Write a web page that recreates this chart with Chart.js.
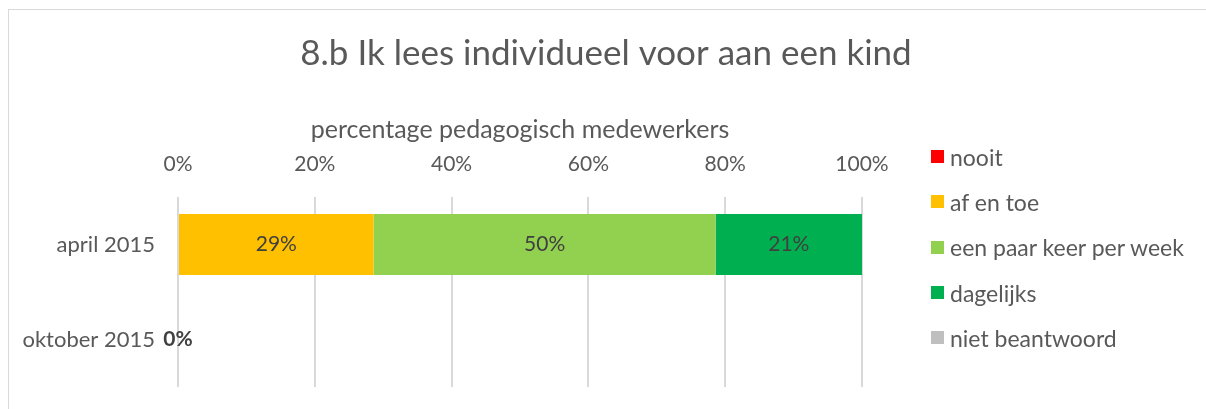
<!DOCTYPE html>
<html>
<head>
<meta charset="utf-8">
<script src="https://cdn.jsdelivr.net/npm/chart.js@4.4.1/dist/chart.umd.min.js"></script>
<style>
  body { margin: 0; background: #fff; overflow: hidden; font-family: Lato, "Open Sans", sans-serif; }
  .frame { position: absolute; left: 8px; top: 9px; width: 1230px; height: 430px; border: 1px solid #d9d9d9; }
  .box { position: relative; width: 1194px; height: 400px; }
  #legend { position: absolute; left: 922px; top: 124px; margin: 0; padding: 0; list-style: none; }
  #legend li { height: 45.3px; display: flex; align-items: center; color: #595959; font-size: 23px; }
  #legend span { display: inline-block; width: 13px; height: 13px; margin-right: 6px; }
</style>
</head>
<body>
<div class="frame"><div class="box"><canvas id="chart"></canvas><ul id="legend"></ul></div></div>
<script>
// data
const categories = ['april 2015', 'oktober 2015'];
const seriesNames = ['nooit', 'af en toe', 'een paar keer per week', 'dagelijks', 'niet beantwoord'];
const nooit = [0, 0];
const afEnToe = [28.6, 0];
const paarKeer = [50, 0];
const dagelijks = [21.4, 0];
const nietBeantwoord = [0, 0];
const tickLabels = ['0%', '20%', '40%', '60%', '80%', '100%'];

const colors = ['#FF0000', '#FFC000', '#92D050', '#00B050', '#BFBFBF'];
const seriesValues = [nooit, afEnToe, paarKeer, dagelijks, nietBeantwoord];
const FONT = 'Lato, "Open Sans", sans-serif';
const GREY = '#595959';

// percentage labels in the middle of each segment; a bold 0% when a row is empty
const segmentLabels = {
    id: 'segmentLabels',
    afterDatasetsDraw(chart) {
        const ctx = chart.ctx;
        const xs = chart.scales.x;
        ctx.save();
        ctx.textAlign = 'center';
        ctx.textBaseline = 'middle';
        categories.forEach((cat, i) => {
            let total = 0;
            chart.data.datasets.forEach((ds, d) => {
                const v = ds.data[i];
                total += v;
                if (v > 0) {
                    const bar = chart.getDatasetMeta(d).data[i];
                    ctx.fillStyle = '#404040';
                    ctx.font = '21px ' + FONT;
                    ctx.fillText(Math.round(v) + '%', (bar.x + bar.base) / 2, bar.y);
                }
            });
            if (total === 0) {
                const bar = chart.getDatasetMeta(0).data[i];
                ctx.fillStyle = '#404040';
                ctx.font = 'bold 21px ' + FONT;
                ctx.fillText('0%', xs.getPixelForValue(0), bar.y);
            }
        });
        ctx.restore();
    }
};

// legend list built from the chart's own legend items
const htmlLegend = {
    id: 'htmlLegend',
    afterUpdate(chart) {
        const ul = document.getElementById('legend');
        ul.innerHTML = '';
        chart.options.plugins.legend.labels.generateLabels(chart).forEach(item => {
            const li = document.createElement('li');
            const box = document.createElement('span');
            box.style.background = item.fillStyle;
            li.appendChild(box);
            li.appendChild(document.createTextNode(item.text));
            ul.appendChild(li);
        });
    }
};

new Chart(document.getElementById('chart'), {
    type: 'bar',
    data: {
        labels: categories,
        datasets: seriesNames.map((name, i) => ({
            label: name,
            data: seriesValues[i],
            backgroundColor: colors[i],
            borderWidth: 0,
            barPercentage: 0.64,
            categoryPercentage: 1
        }))
    },
    options: {
        indexAxis: 'y',
        responsive: true,
        maintainAspectRatio: false,
        animation: false,
        layout: { padding: { top: 0, bottom: 23, left: 0, right: 0 } },
        plugins: {
            title: {
                display: true,
                text: '8.b Ik lees individueel voor aan een kind',
                color: GREY,
                font: { family: FONT, size: 35, weight: 'normal' },
                padding: { top: 23, bottom: 25 }
            },
            legend: { display: false },
            tooltip: { enabled: false }
        },
        scales: {
            x: {
                position: 'top',
                stacked: true,
                min: 0,
                max: 100,
                afterFit: s => { s.height = 97; },
                ticks: {
                    stepSize: 20,
                    color: GREY,
                    font: { family: FONT, size: 21 },
                    padding: 20,
                    callback: (v, i) => tickLabels[i]
                },
                grid: { color: '#d9d9d9', lineWidth: 2, drawTicks: false },
                border: { display: false },
                title: {
                    display: true,
                    text: 'percentage pedagogisch medewerkers',
                    color: GREY,
                    font: { family: FONT, size: 25 },
                    padding: { top: 15, bottom: 0 }
                }
            },
            y: {
                stacked: true,
                afterFit: s => {
                    s.width = 169;
                    s.paddingTop = 0;
                    s.paddingBottom = 0;
                },
                ticks: {
                    color: GREY,
                    font: { family: FONT, size: 22 },
                    padding: 15
                },
                grid: { display: false },
                border: { display: false }
            },
            // empty axis that keeps the room for the legend on the right
            legendSpace: {
                type: 'linear',
                position: 'right',
                ticks: { display: false },
                grid: { display: false },
                border: { display: false },
                afterFit: s => {
                    s.width = 341;
                    s.paddingTop = 0;
                    s.paddingBottom = 0;
                }
            }
        }
    },
    plugins: [segmentLabels, htmlLegend]
});
</script>
</body>
</html>
